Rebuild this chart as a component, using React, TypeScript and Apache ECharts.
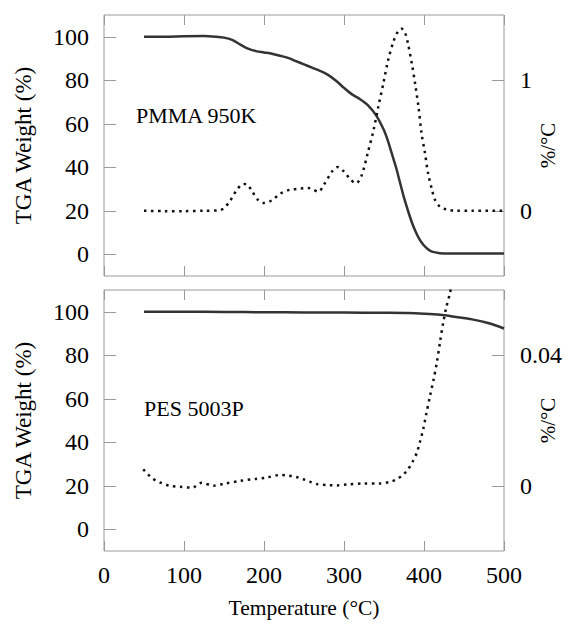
import React, { useEffect, useRef } from "react";
import * as echarts from "echarts";

const xTicks = [0, 100, 200, 300, 400, 500];
const weightTicks = [0, 20, 40, 60, 80, 100];
const pmmaRateTicks = [0, 1];
const pesRateTicks = [0, 0.04];

const pmmaLabel = "PMMA 950K";
const pesLabel = "PES 5003P";

// [temperature °C, TGA weight %]
const pmmaWeight = [
  [50, 100], [75, 100], [100, 100.2], [125, 100.3], [140, 100], [150, 99.6], [160, 98.6],
  [170, 96.5], [180, 94.5], [190, 93.4], [200, 92.8], [210, 92.2], [220, 91.3], [230, 90.3],
  [240, 88.8], [250, 87.3], [260, 85.8], [270, 84.3], [280, 82.5], [290, 79.8], [300, 76.5],
  [310, 73.5], [320, 71.3], [330, 68.5], [340, 64], [350, 57], [355, 52], [360, 46], [365, 40],
  [370, 33], [375, 26], [380, 20], [385, 14.5], [390, 10], [395, 6.5], [400, 4], [405, 2.3],
  [410, 1.2], [420, 0.5], [430, 0.3], [450, 0.3], [500, 0.3],
];

// [temperature °C, derivative %/°C]
const pmmaRate = [
  [50, 0], [75, -0.003], [100, -0.003], [125, 0], [145, 0.005], [150, 0.02], [157, 0.07],
  [165, 0.15], [172, 0.2], [178, 0.205], [185, 0.15], [193, 0.08], [200, 0.06], [210, 0.08],
  [220, 0.13], [232, 0.16], [245, 0.17], [255, 0.175], [262, 0.16], [268, 0.145], [275, 0.2],
  [285, 0.3], [292, 0.335], [300, 0.3], [308, 0.24], [315, 0.21], [322, 0.27], [330, 0.45],
  [337, 0.62], [343, 0.8], [349, 0.97], [355, 1.15], [362, 1.3], [368, 1.38], [372, 1.395],
  [376, 1.37], [380, 1.28], [385, 1.12], [389, 0.97], [393, 0.8], [397, 0.59], [401, 0.45],
  [405, 0.29], [410, 0.16], [414, 0.08], [420, 0.03], [428, 0.01], [440, 0], [460, 0], [500, 0],
];

const pesWeight = [
  [50, 100], [100, 100], [150, 99.9], [200, 99.8], [250, 99.7], [300, 99.6], [350, 99.5],
  [380, 99.4], [400, 99.1], [420, 98.6], [440, 97.6], [460, 96.5], [480, 94.8], [500, 92.3],
];

const pesRate = [
  [49, 0.005], [55, 0.0035], [60, 0.0023], [70, 0.001], [82, 0], [95, -0.0003], [110, -0.0006],
  [122, 0.0009], [137, 0], [150, 0.0006], [170, 0.0015], [190, 0.0021], [203, 0.0025],
  [220, 0.0033], [228, 0.0032], [240, 0.0027], [249, 0.002], [258, 0.0012], [266, 0.0005],
  [280, 0.0002], [291, 0.0001], [305, 0.0004], [324, 0.0007], [345, 0.0007], [358, 0.0012],
  [366, 0.002], [373, 0.0032], [380, 0.005], [386, 0.0075], [391, 0.0101], [395, 0.0135],
  [399, 0.0173], [403, 0.0222], [407.5, 0.0275], [412, 0.0326], [416, 0.0377], [420, 0.044],
  [424, 0.05], [428, 0.0548], [432.5, 0.0591], [438, 0.066],
];

const FONT = "Liberation Serif";
const FRAME = "#9a9a9a";
const INK = "#333333";

export default function App() {
  const ref = useRef<HTMLDivElement>(null);
  useEffect(() => {
    if (!ref.current) return;
    const chart = echarts.init(ref.current, undefined, { renderer: "svg" });
    const gridL = 104;
    const gridW = 400;
    const gridH = 261;
    const tops = [15, 290];

    const xAxisBase = (gridIndex: number, position: "top" | "bottom", labels: boolean, name?: string) => ({
      type: "value",
      gridIndex,
      position,
      min: 0,
      max: 500,
      interval: 100,
      axisLine: { show: false, onZero: false },
      axisTick: { show: true, inside: true, length: 10, lineStyle: { color: FRAME, width: 1 } },
      splitLine: { show: false },
      axisLabel: {
        show: labels,
        margin: 12,
        fontFamily: FONT,
        fontSize: 24,
        color: "#000",
      },
      name: name || "",
      nameLocation: "middle",
      nameGap: 46,
      nameMoveOverlap: false,
      nameTextStyle: { fontFamily: FONT, fontSize: 21.5, color: "#000" },
    });

    const yLeft = (gridIndex: number) => ({
      type: "value",
      gridIndex,
      position: "left",
      min: -10,
      max: 110,
      axisLine: { show: false, onZero: false },
      axisTick: { show: true, inside: true, length: 12, lineStyle: { color: FRAME, width: 1 }, customValues: weightTicks },
      splitLine: { show: false },
      axisLabel: { margin: 15, fontFamily: FONT, fontSize: 24, color: "#000", customValues: weightTicks },
      name: "TGA Weight (%)",
      nameLocation: "middle",
      nameGap: 69,
      nameRotate: 90,
      nameMoveOverlap: false,
      nameTextStyle: { fontFamily: FONT, fontSize: 23, color: "#000" },
    });

    const yRight = (gridIndex: number, min: number, max: number, ticks: number[]) => ({
      type: "value",
      gridIndex,
      position: "right",
      min,
      max,
      axisLine: { show: false, onZero: false },
      axisTick: { show: true, inside: true, length: 12, lineStyle: { color: FRAME, width: 1 }, customValues: ticks },
      splitLine: { show: false },
      axisLabel: { margin: 16, fontFamily: FONT, fontSize: 24, color: "#000", customValues: ticks },
      name: "%/°C",
      nameLocation: "middle",
      nameGap: 33,
      nameRotate: 90,
      nameMoveOverlap: false,
      nameTextStyle: { fontFamily: FONT, fontSize: 21, color: "#000" },
    });

    const solid = { color: INK, width: 2.5, type: "solid" };
    const dotted = { color: "#111", width: 2.5, type: [2.5, 4.5] };

    chart.setOption({
      animation: false,
      grid: tops.map((t) => ({
        left: gridL,
        top: t,
        width: gridW,
        height: gridH,
        show: true,
        borderColor: FRAME,
        borderWidth: 1,
        backgroundColor: "transparent",
        containLabel: false,
        outerBoundsMode: "none",
      })),
      xAxis: [
        xAxisBase(0, "bottom", false),
        xAxisBase(0, "top", false),
        xAxisBase(1, "bottom", true, "Temperature (°C)"),
        xAxisBase(1, "top", false),
      ],
      yAxis: [
        yLeft(0),
        yRight(0, -0.5, 1.5, pmmaRateTicks),
        yLeft(1),
        yRight(1, -0.02, 0.06, pesRateTicks),
      ],
      series: [
        { type: "line", xAxisIndex: 0, yAxisIndex: 0, data: pmmaWeight, showSymbol: false, smooth: 0.3, lineStyle: solid },
        { type: "line", xAxisIndex: 0, yAxisIndex: 1, data: pmmaRate, showSymbol: false, smooth: 0.3, lineStyle: dotted },
        { type: "line", xAxisIndex: 2, yAxisIndex: 2, data: pesWeight, showSymbol: false, smooth: 0.3, lineStyle: solid },
        { type: "line", xAxisIndex: 2, yAxisIndex: 3, data: pesRate, showSymbol: false, smooth: 0.3, lineStyle: dotted, clip: true },
      ],
      graphic: [
        { type: "text", left: 136, top: 104, style: { text: pmmaLabel, font: `22px "${FONT}"`, fill: "#000" } },
        { type: "text", left: 144, top: 397, style: { text: pesLabel, font: `22px "${FONT}"`, fill: "#000" } },
      ],
    });
    return () => chart.dispose();
  }, []);
  return <div ref={ref} style={{ position: "fixed", left: 0, top: 0, width: 571, height: 624, background: "#fff" }} />;
}
